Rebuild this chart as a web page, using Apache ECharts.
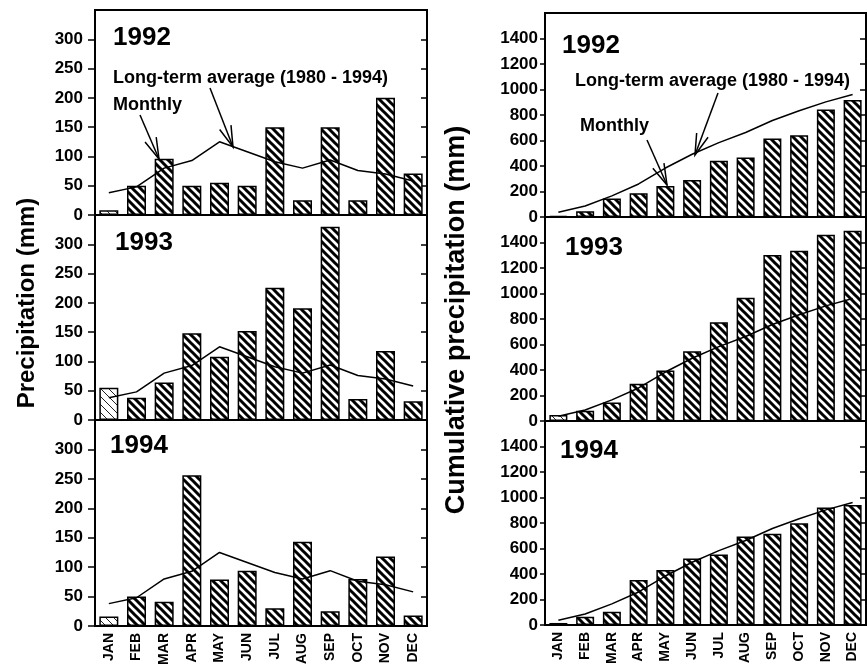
<!DOCTYPE html>
<html>
<head>
<meta charset="utf-8">
<script src="https://cdn.jsdelivr.net/npm/echarts@6/dist/echarts.min.js"></script>
<style>
  html, body { margin: 0; padding: 0; background: #fff; }
  #chart { width: 867px; height: 669px; }
</style>
</head>
<body>
<div id="chart"></div>
<script>
const months = ['JAN', 'FEB', 'MAR', 'APR', 'MAY', 'JUN', 'JUL', 'AUG', 'SEP', 'OCT', 'NOV', 'DEC']
const years = ['1992', '1993', '1994']

// monthly precipitation (mm)
const monthly1992 = [8, 50, 96, 50, 55, 50, 150, 25, 150, 25, 200, 71]
const monthly1993 = [55, 38, 64, 148, 108, 152, 226, 191, 330, 36, 118, 32]
const monthly1994 = [16, 50, 41, 256, 79, 94, 30, 143, 25, 80, 118, 18]
const avgMonthly = [38, 48, 80, 93, 125, 108, 91, 80, 94, 76, 70, 58]

// cumulative precipitation (mm)
const cum1992 = [8, 45, 145, 187, 244, 290, 441, 467, 615, 641, 843, 918]
const cum1993 = [47, 81, 145, 292, 397, 547, 775, 967, 1301, 1335, 1461, 1493]
const cum1994 = [16, 65, 104, 353, 431, 521, 553, 695, 716, 799, 921, 942]
const avgCumulative = [38, 86, 166, 259, 384, 492, 583, 663, 757, 833, 903, 961]

const FONT = 'Liberation Sans, Arial, sans-serif'

// diagonal hatch fill (lines running top-left to bottom-right)
function hatch(step, width, color) {
  const c = document.createElement('canvas')
  c.width = c.height = step
  const ctx = c.getContext('2d')
  ctx.fillStyle = '#fff'
  ctx.fillRect(0, 0, step, step)
  ctx.strokeStyle = color
  ctx.lineWidth = width
  ctx.beginPath()
  ctx.moveTo(-2, -2); ctx.lineTo(step + 2, step + 2)
  ctx.moveTo(-2, step - 2); ctx.lineTo(2, step + 2)
  ctx.moveTo(step - 2, -2); ctx.lineTo(step + 2, 2)
  ctx.stroke()
  return {image: c, repeat: 'repeat'}
}
const heavy = hatch(8, 3, '#000')
const light = hatch(8, 1, '#222')

const chart = echarts.init(document.getElementById('chart'))

const panels = [
  {left: 95, width: 332, top: 10, height: 205, max: 350, bars: monthly1992, avg: avgMonthly},
  {left: 95, width: 332, top: 215, height: 205, max: 350, bars: monthly1993, avg: avgMonthly},
  {left: 95, width: 332, top: 420, height: 206, max: 350, bars: monthly1994, avg: avgMonthly},
  {left: 545, width: 321, top: 13, height: 204, max: 1600, bars: cum1992, avg: avgCumulative},
  {left: 545, width: 321, top: 217, height: 204, max: 1600, bars: cum1993, avg: avgCumulative},
  {left: 545, width: 321, top: 421, height: 204, max: 1600, bars: cum1994, avg: avgCumulative}
]

let grid = [], xAxis = [], yAxis = [], series = []
panels.forEach((p, i) => {
  const bottom = i === 2 || i === 5
  const cum = i >= 3
  grid.push({
    left: p.left, top: p.top, width: p.width, height: p.height,
    show: true, borderColor: '#000', borderWidth: 2, backgroundColor: 'transparent'
  })
  xAxis.push({
    type: 'category', gridIndex: i, data: months,
    axisLine: {lineStyle: {color: '#000', width: 2}},
    axisTick: {show: false},
    axisLabel: {
      show: bottom, rotate: 90, margin: 7, interval: 0,
      fontFamily: FONT, fontWeight: 'bold', fontSize: 14, color: '#000'
    }
  })
  const scale = {min: 0, max: p.max, interval: cum ? 200 : 50}
  yAxis.push(Object.assign({
    type: 'value', gridIndex: i, position: 'left',
    axisLine: {show: true, lineStyle: {color: '#000', width: 2}},
    axisTick: {show: true, length: cum ? 5 : 7, lineStyle: {color: '#000', width: 1.5}},
    splitLine: {show: false},
    axisLabel: {
      showMaxLabel: false, margin: cum ? 7 : 12,
      formatter: v => String(v),
      fontFamily: FONT, fontWeight: 'bold', fontSize: 17, color: '#000'
    }
  }, scale))
  yAxis.push(Object.assign({
    type: 'value', gridIndex: i, position: 'right',
    axisLine: {show: true, lineStyle: {color: '#000', width: 2}},
    axisTick: {show: true, inside: true, length: 6, lineStyle: {color: '#000', width: 1.5}},
    splitLine: {show: false},
    axisLabel: {show: false}
  }, scale))
  series.push({
    type: 'bar', xAxisIndex: i, yAxisIndex: 2 * i,
    barWidth: cum ? 18 : 19,
    data: p.bars.map((v, k) => ({
      value: v,
      itemStyle: {color: k === 0 ? light : heavy}
    })),
    itemStyle: {borderColor: '#000', borderWidth: 1.5},
    silent: true
  })
  series.push({
    type: 'line', xAxisIndex: i, yAxisIndex: 2 * i,
    data: p.avg, symbol: 'none', z: 5,
    lineStyle: {color: '#000', width: 1.5},
    silent: true
  })
})

function text(x, y, str, size) {
  return {
    type: 'text', left: x, top: y - size / 2, z: 10,
    style: {text: str, font: 'bold ' + size + 'px ' + FONT, fill: '#000'}
  }
}

// open arrow from (x1,y1) pointing at (x2,y2)
function arrow(x1, y1, x2, y2) {
  const a = Math.atan2(y2 - y1, x2 - x1)
  const len = 22, spread = 0.28
  const b1 = [x2 - len * Math.cos(a - spread), y2 - len * Math.sin(a - spread)]
  const b2 = [x2 - len * Math.cos(a + spread), y2 - len * Math.sin(a + spread)]
  return [
    {type: 'line', z: 10, shape: {x1, y1, x2, y2}, style: {stroke: '#000', lineWidth: 1.5}},
    {type: 'polyline', z: 10, shape: {points: [b1, [x2, y2], b2]}, style: {stroke: '#000', lineWidth: 1.5, fill: null}}
  ]
}

let graphic = [
  text(113, 38, years[0], 26),
  text(115, 243, years[1], 26),
  text(110, 446, years[2], 26),
  text(562, 46, years[0], 26),
  text(565, 248, years[1], 26),
  text(560, 451, years[2], 26),
  text(113, 78, 'Long-term average (1980 - 1994)', 18),
  text(113, 105, 'Monthly', 18),
  text(575, 81, 'Long-term average (1980 - 1994)', 18),
  text(580, 126, 'Monthly', 18),
  {
    type: 'text', x: 27, y: 303, rotation: Math.PI / 2, z: 10,
    style: {text: 'Precipitation (mm)', font: 'bold 24px ' + FONT, fill: '#000', textAlign: 'center', textVerticalAlign: 'middle'}
  },
  {
    type: 'text', x: 457, y: 320, rotation: Math.PI / 2, z: 10,
    style: {text: 'Cumulative precipitation (mm)', font: 'bold 27px ' + FONT, fill: '#000', textAlign: 'center', textVerticalAlign: 'middle'}
  }
]
graphic = graphic
  .concat(arrow(140, 115, 159, 159))
  .concat(arrow(210, 88, 233, 147))
  .concat(arrow(647, 140, 667, 185))
  .concat(arrow(718, 93, 695, 155))

chart.setOption({
  backgroundColor: '#fff',
  animation: false,
  grid: grid,
  xAxis: xAxis,
  yAxis: yAxis,
  series: series,
  graphic: graphic
})
</script>
</body>
</html>
